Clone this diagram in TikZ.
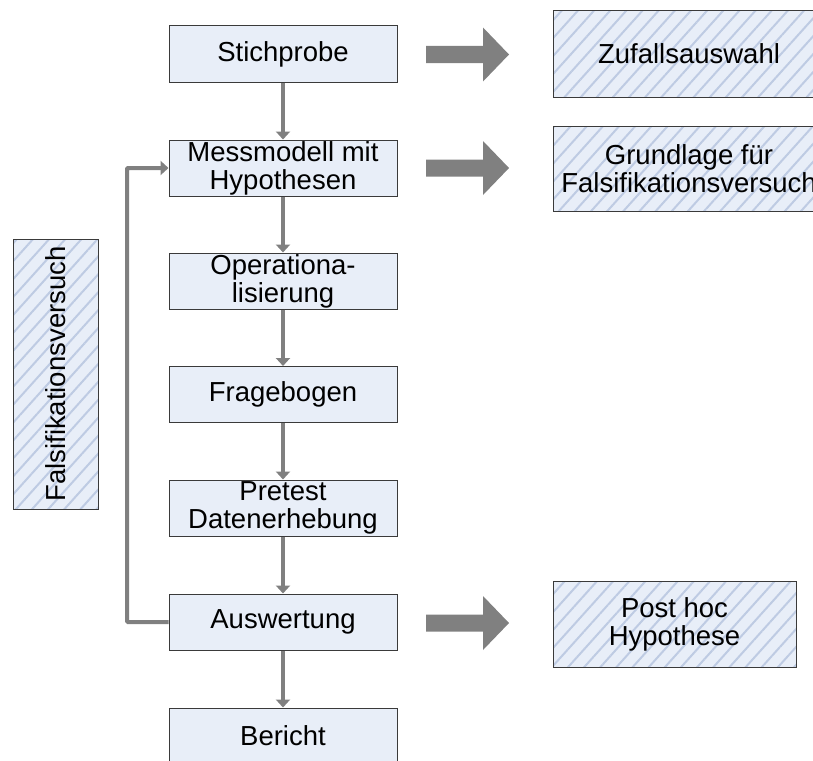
\documentclass[tikz,border=0pt]{standalone}
\usepackage{fontspec}
\setmainfont{Liberation Sans}
\usetikzlibrary{patterns.meta,arrows.meta}
\definecolor{boxfill}{HTML}{E8EEF8}
\definecolor{hatch}{HTML}{BECBE3}
\definecolor{boxline}{HTML}{3A3A3A}
\definecolor{flow}{HTML}{808080}
\tikzset{
  stepbox/.style={draw=boxline, line width=1pt, fill=boxfill,
    minimum width=228pt, minimum height=56pt, inner sep=0pt,
    align=center, font=\fontsize{27.5}{28}\selectfont},
  hatchbox/.style={draw=boxline, line width=1pt,
    preaction={fill=boxfill},
    pattern={Lines[angle=48,distance=12pt,line width=2pt]},
    pattern color=hatch, inner sep=0pt},
  hatchtext/.style={align=center, font=\fontsize{27.5}{28}\selectfont, inner sep=0pt},
  flowline/.style={draw=flow, line width=4pt,
    -{Triangle[width=14pt,length=8pt]}},
  blockarrow/.style={fill=flow}
}
\begin{document}
\begin{tikzpicture}[x=1pt,y=-1pt]
\useasboundingbox (0,0) rectangle (813,760);
\clip (0,0) rectangle (813,760);
\fill[white] (0,0) rectangle (813,760);

% main process chain
\node[stepbox] (stich) at (283,54)  {Stichprobe};
\node[stepbox] (mess)  at (283,168) {Messmodell mit\\Hypothesen};
\node[stepbox] (oper)  at (283,281) {Operationa-\\lisierung};
\node[stepbox] (frage) at (283,394.5) {Fragebogen};
\node[stepbox] (pre)   at (283,508) {Pretest\\Datenerhebung};
\node[stepbox] (ausw)  at (283,622) {Auswertung};
\node[stepbox] (ber)   at (283,736) {Bericht};

\draw[flowline] (stich.south) -- (mess.north);
\draw[flowline] (mess.south)  -- (oper.north);
\draw[flowline] (oper.south)  -- (frage.north);
\draw[flowline] (frage.south) -- (pre.north);
\draw[flowline] (pre.south)   -- (ausw.north);
\draw[flowline] (ausw.south)  -- (ber.north);

% feedback loop from the analysis back to the model
\coordinate (loopx) at (127,0);
\draw[flowline, rounded corners=1pt] (ausw.west) -- (loopx |- ausw.west)
  -- (loopx |- mess.west) -- (mess.west);

% side boxes
\node[hatchbox, minimum width=85pt, minimum height=270pt] (falsi) at (55.5,374) {};
\node[hatchtext, rotate=90] (falsitext) at (falsi.center) {Falsifikationsversuch};

\node[hatchbox, minimum width=272pt, minimum height=86pt] (zufall) at (689,54) {};
\node[hatchtext] (zufalltext) at (zufall.center) {Zufallsauswahl};

\node[hatchbox, minimum width=272pt, minimum height=85pt] (grund) at (689,168.5) {};
\node[hatchtext] (grundtext) at (grund.center) {Grundlage für\\Falsifikationsversuch};

\node[hatchbox, minimum width=243pt, minimum height=86pt] (post) at (674.5,624) {};
\node[hatchtext] (posttext) at (post.center) {Post hoc\\Hypothese};

% block arrows pointing to the side boxes
\foreach \yc in {54.5,168,623} {
  \fill[blockarrow] (426,\yc-8.5) -- (483,\yc-8.5) -- (483,\yc-27) -- (509,\yc)
    -- (483,\yc+27) -- (483,\yc+8.5) -- (426,\yc+8.5) -- cycle;
}
\end{tikzpicture}
\end{document}
